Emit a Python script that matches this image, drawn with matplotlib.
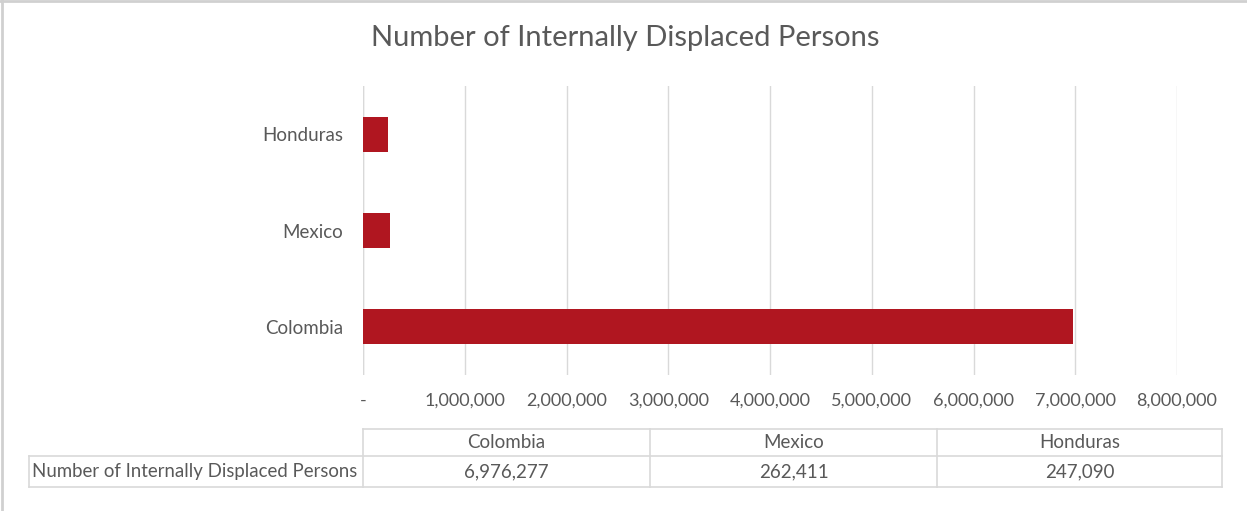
import matplotlib
matplotlib.use("Agg")
import matplotlib.pyplot as plt
from matplotlib.lines import Line2D

categories = ["Colombia", "Mexico", "Honduras"]
values = [6976277, 262411, 247090]
series_name = "Number of Internally Displaced Persons"
title = "Number of Internally Displaced Persons"
xticks = [0, 1000000, 2000000, 3000000, 4000000, 5000000, 6000000, 7000000, 8000000]

TXT = "#595959"
GRID = "#D9D9D9"
BAR = "#B01620"
W, H = 1247, 511

fig = plt.figure(figsize=(W / 100, H / 100), dpi=100)
fig.patch.set_facecolor("white")

def fx(px):
    return px / W

def fy(py):
    return 1 - py / H

# chart border: only top and left edges visible
bkw = dict(transform=fig.transFigure, color="#D0D0D0", lw=2)
fig.add_artist(Line2D([fx(0), fx(W)], [fy(1), fy(1)], **bkw))
fig.add_artist(Line2D([fx(1.5), fx(1.5)], [fy(0), fy(H)], **bkw))

ax = fig.add_axes([fx(363), fy(375), fx(1177) - fx(363), fy(86) - fy(375)])
ypos = list(range(len(categories)))
ax.barh(ypos, values, height=0.36, color=BAR, zorder=3)
ax.set_ylim(-0.5, len(categories) - 0.5)
ax.set_xlim(xticks[0], xticks[-1])
ax.set_xticks(xticks)
ax.set_xticklabels(["-" if v == 0 else f"{v:,}" for v in xticks],
                   fontsize=13, color=TXT, family="Lato")
ax.set_yticks(ypos)
ax.set_yticklabels(categories, fontsize=13.5, color=TXT, family="Lato")
ax.tick_params(axis="both", length=0)
ax.tick_params(axis="y", pad=14.5)
ax.tick_params(axis="x", pad=13)
ax.grid(axis="x", color=GRID, lw=1, zorder=0)
for s in ax.spines.values():
    s.set_visible(False)
ax.axvline(0, color=GRID, lw=1, zorder=1)

fig.text(fx(625), fy(38), title, ha="center", va="center", fontsize=21,
         color=TXT, family="Lato")

# data table
x_label_left = 29
x_cols = [363, 650, 937, 1222]
y_rows = [429, 456, 487]
lkw = dict(transform=fig.transFigure, color=GRID, lw=1.2)
fig.add_artist(Line2D([fx(x_cols[0]), fx(x_cols[-1])], [fy(y_rows[0])] * 2, **lkw))
fig.add_artist(Line2D([fx(x_label_left), fx(x_cols[-1])], [fy(y_rows[1])] * 2, **lkw))
fig.add_artist(Line2D([fx(x_label_left), fx(x_cols[-1])], [fy(y_rows[2])] * 2, **lkw))
for xc in x_cols:
    fig.add_artist(Line2D([fx(xc)] * 2, [fy(y_rows[0]), fy(y_rows[2])], **lkw))
fig.add_artist(Line2D([fx(x_label_left)] * 2, [fy(y_rows[1]), fy(y_rows[2])], **lkw))

tkw = dict(fontsize=13.5, color=TXT, family="Lato", va="center")
for i, cat in enumerate(categories):
    xc = (x_cols[i] + x_cols[i + 1]) / 2
    fig.text(fx(xc), fy((y_rows[0] + y_rows[1]) / 2), cat, ha="center", **tkw)
    fig.text(fx(xc), fy((y_rows[1] + y_rows[2]) / 2), f"{values[i]:,}", ha="center", **tkw)
fig.text(fx(x_label_left + 3), fy((y_rows[1] + y_rows[2]) / 2), series_name, ha="left",
         fontsize=13.4, color=TXT, family="Lato", va="center")

fig.savefig("out.png", dpi=100, facecolor="white")
